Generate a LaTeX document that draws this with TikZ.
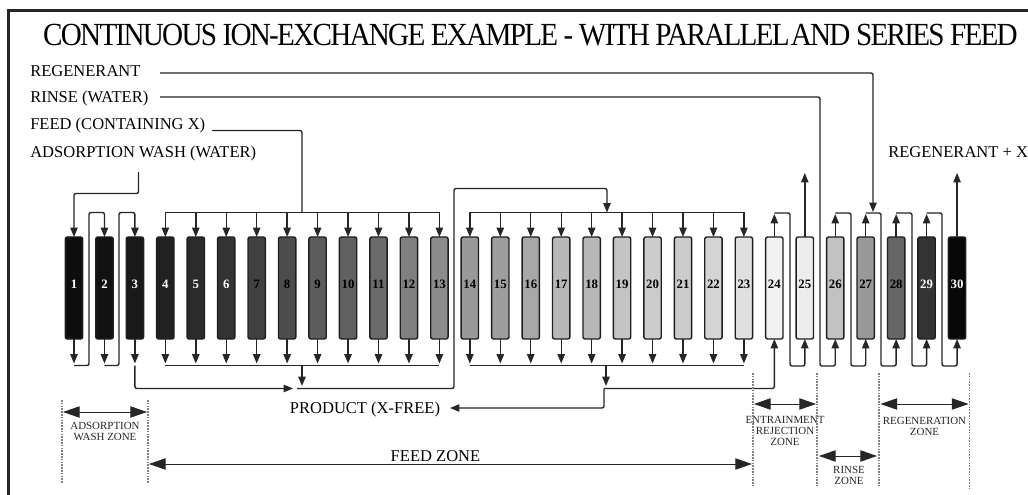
\documentclass[tikz,border=0pt]{standalone}
\usepackage{fontspec}
\setmainfont{Liberation Serif}
\newfontfamily\titlefont[LetterSpace=-6]{Liberation Serif}
\usetikzlibrary{arrows.meta,calc}
\tikzset{
  col/.style={draw=black!88,line width=1.05pt,rounded corners=1.5pt,minimum width=13pt,minimum height=76.5pt,inner sep=0pt,outer sep=0pt},
  numb/.style={font=\bfseries\fontsize{9.6}{9.6}\selectfont,inner sep=0pt},
  pipe/.style={draw=black!85,line width=1.05pt,rounded corners=1.5pt},
  flow/.style={pipe,-{Triangle[length=7pt,width=5.5pt]}},
  zone/.style={draw=black!85,line width=0.7pt,{Triangle[length=12.5pt,width=8.5pt]}-{Triangle[length=12.5pt,width=8.5pt]}},
  bound/.style={draw=black!50,line width=1.4pt,dash pattern=on 1.2pt off 0.9pt},
  lab/.style={font=\fontsize{12.4}{14}\selectfont,inner sep=0pt,text=black,anchor=base west},
  labc/.style={font=\fontsize{12.4}{14}\selectfont,inner sep=0pt,text=black,anchor=base},
  zlab/.style={font=\fontsize{8.2}{8.25}\selectfont,inner sep=0pt,align=center,text=black!85},
}
\begin{document}
\begin{tikzpicture}[x=0.75pt,y=-0.75pt]
\useasboundingbox (0,0) rectangle (1028,495);
\fill[white] (0,0) rectangle (1028,495);
\draw[black!85,line width=2pt] (8.5,495) -- (8.5,10.5) -- (1028,10.5);
\node[inner sep=0pt,font=\titlefont\fontsize{24}{24}\selectfont,anchor=base] (title) at (530.5,46) {\resizebox{731pt}{16pt}{CONTINUOUS ION-EXCHANGE EXAMPLE - WITH PARALLEL\kern-0.15em\ AND SERIES FEED}};
\foreach \n/\g/\t in {1/5/white,2/7/white,3/10/white,4/13/white,5/17/white,6/20/white,7/25/black,8/30/black,9/36/black,10/38/black,11/42/black,12/50/black,13/55/black,14/60/black,15/62/black,16/66/black,17/72/black,18/72/black,19/77/black,20/80/black,21/80/black,22/83/black,23/88/black,24/95/black,25/93/black,26/76/black,27/60/black,28/40/black,29/20/white,30/3/white}{
  \pgfmathsetmacro{\xx}{74+(\n-1)*30.45}
  \node[col,fill=black!\the\numexpr100-\g\relax] (c\n) at (\xx,288) {};
  \node[numb,text=\t] (n\n) at (\xx,284) {\n};
}
% labels
\node[lab] (regen) at (30,76.5) {REGENERANT};
\node[lab] (rinse) at (30,103) {RINSE (WATER)};
\node[lab] (feed) at (30,130) {FEED (CONTAINING X)};
\node[lab] (wash) at (30,157.5) {ADSORPTION WASH (WATER)};
\node[lab] (regx) at (888,158) {REGENERANT + X};
\node[labc] (prod) at (365,413) {PRODUCT (X-FREE)};
\node[labc] (feedz) at (435.5,461.5) {FEED ZONE};
\node[zlab] (zads) at (105,431) {ADSORPTION\\WASH ZONE};
\node[zlab] (zent) at (785,431.4) {ENTRAINMENT\\REJECTION\\ZONE};
\node[zlab] (zrin) at (849,475) {RINSE\\ZONE};
\node[zlab] (zreg) at (924.5,426) {REGENERATION\\ZONE};
% feed headers
\coordinate (fa) at (212,130.5);
\coordinate (fb) at (302,212.5);
\draw[pipe] (c4.north |- fb) -- (c13.north |- fb);
\draw[pipe] (fa) -- (fb |- fa) -- (fb);
\foreach \n in {4,...,13}{
  \draw[flow] (c\n.north |- fb) -- (c\n.north);
  \draw[flow] (c\n.south) -- ++(0,24.5);
}
\coordinate (ga) at (607,212.5);
\draw[pipe] (c14.north |- ga) -- (c23.north |- ga);
\foreach \n in {14,...,23}{
  \draw[flow] (c\n.north |- ga) -- (c\n.north);
  \draw[flow] (c\n.south) -- ++(0,24.5);
}
% collecting
\coordinate (pa) at (302,365.5);
\coordinate (pb) at (302,386);
\draw[pipe] (c4.south |- pa) -- (c13.south |- pa);
\draw[flow] (pa) -- (pb);
\coordinate (qa) at (606,365.5);
\coordinate (qb) at (606,386);
\draw[pipe] (c14.south |- qa) -- (c23.south |- qa);
\draw[flow] (qa) -- (qb);
% wash
\coordinate (wa) at (138.5,172);
\draw[flow] (wa) -- (138.5,193.5) -- (c1.north |- 0,193.5) -- (c1.north);
% series 1-3
\draw[flow] (c1.south) -- ++(0,24.5);
\draw[flow] (c2.south) -- ++(0,24.5);
\draw[flow] (c3.south) -- ++(0,24.5);
\draw[flow] (c1.south |- 0,365.5) -- (89,365.5) -- (89,212.5) -- (c2.north |- 0,212.5) -- (c2.north);
\draw[flow] (c2.south |- 0,365.5) -- (119,365.5) -- (119,212.5) -- (c3.north |- 0,212.5) -- (c3.north);
% 3 to product header, then to 14-23 header
\coordinate (ra) at (293,388.5);
\coordinate (rb) at (297,388.5);
\draw[flow] (c3.south |- 0,365.5) -- (c3.south |- ra) -- (ra);
\draw[flow] (rb) -- (454,388.5) -- (454,188.5) -- (607,188.5) -- (ga);
% product out
\coordinate (sa) at (604,388.5);
\draw[flow] (sa) -- (c24.south |- sa) -- (c24.south);
\draw[flow] (sa) -- (604,408) -- (450,408);
% regenerate side
\draw[flow] (c24.north) -- (c24.north |- 0,214);
\draw[flow] (c24.north |- 0,213) -- (790,213) -- (790,366) -- (c25.south |- 0,366) -- (c25.south);
\draw[flow] (c25.north) -- (c25.north |- 0,173);
\draw[flow] (c30.north) -- (c30.north |- 0,173);
\foreach \a/\b/\m in {26/27/851,27/28/881,28/29/912,29/30/942}{
  \draw[flow] (c\a.north) -- (c\a.north |- 0,214);
  \draw[flow] (c\a.north |- 0,213) -- (\m,213) -- (\m,366) -- (c\b.south |- 0,366) -- (c\b.south);
}
\coordinate (ia) at (160,97);
\draw[flow] (ia) -- (820,97) -- (820,366) -- (c26.south |- 0,366) -- (c26.south);
\coordinate (ja) at (160,73);
\draw[flow] (ja) -- (873,73) -- (873,212);
% zones
\foreach \x/\ya/\yb in {62/400/483,148/400/483,753/373/486,817/373/486,879/373/486,969.5/373/488}{
  \draw[bound] (\x,\ya) -- (\x,\yb);
}
\draw[zone] (63,412) -- (147,412);
\draw[zone] (149,464) -- (752,464);
\draw[zone] (754,404) -- (816,404);
\draw[zone] (819,456) -- (877,456);
\draw[zone] (880.5,404) -- (968.5,404);
\end{tikzpicture}
\end{document}
